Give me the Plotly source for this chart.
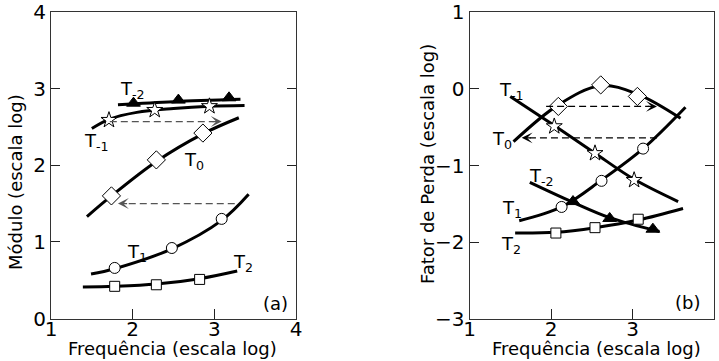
import plotly.graph_objects as go

# ---------------- data: panel (a) Módulo ----------------
a_T_m2_mx = [2.01, 2.56, 3.18]
a_T_m2_my = [2.81, 2.85, 2.88]
a_T_m2_lx = [1.82, 2.50, 3.32]
a_T_m2_ly = [2.79, 2.83, 2.86]

a_T_m1_mx = [1.71, 2.27, 2.94]
a_T_m1_my = [2.59, 2.72, 2.77]
a_T_m1_lx = [1.50, 1.71, 2.05, 2.50, 2.94, 3.37]
a_T_m1_ly = [2.48, 2.60, 2.69, 2.74, 2.77, 2.78]

a_T0_mx = [1.74, 2.29, 2.86]
a_T0_my = [1.60, 2.07, 2.42]
a_T0_lx = [1.44, 1.74, 2.29, 2.86, 3.30]
a_T0_ly = [1.33, 1.60, 2.05, 2.41, 2.62]

a_T1_mx = [1.78, 2.48, 3.09]
a_T1_my = [0.66, 0.92, 1.30]
a_T1_lx = [1.49, 1.78, 2.48, 3.09, 3.42]
a_T1_ly = [0.58, 0.65, 0.91, 1.28, 1.62]

a_T2_mx = [1.78, 2.29, 2.82]
a_T2_my = [0.42, 0.44, 0.51]
a_T2_lx = [1.39, 1.78, 2.29, 2.82, 3.28]
a_T2_ly = [0.41, 0.42, 0.45, 0.52, 0.62]

a_arrows = [  # (x_start, x_tip, y)
    (1.72, 3.09, 2.57),
    (3.25, 1.82, 1.50),
]

# ---------------- data: panel (b) Fator de Perda ----------------
b_T0_mx = [2.09, 2.61, 3.06]
b_T0_my = [-0.23, 0.05, -0.10]
b_T0_lx = [1.54, 2.09, 2.61, 3.06, 3.59]
b_T0_ly = [-0.69, -0.21, 0.04, -0.07, -0.385]

b_T_m1_mx = [2.04, 2.54, 3.02]
b_T_m1_my = [-0.49, -0.84, -1.19]
b_T_m1_lx = [1.50, 2.04, 2.54, 3.02, 3.56]
b_T_m1_ly = [-0.10, -0.48, -0.84, -1.18, -1.47]

b_T1_mx = [2.13, 2.62, 3.13]
b_T1_my = [-1.54, -1.20, -0.78]
b_T1_lx = [1.61, 2.13, 2.62, 3.13, 3.65]
b_T1_ly = [-1.72, -1.54, -1.19, -0.78, -0.24]

b_T_m2_mx = [2.27, 2.72, 3.25]
b_T_m2_my = [-1.47, -1.69, -1.83]
b_T_m2_lx = [1.74, 2.27, 2.72, 3.33]
b_T_m2_ly = [-1.22, -1.48, -1.68, -1.86]

b_T2_mx = [2.06, 2.54, 3.07]
b_T2_my = [-1.88, -1.81, -1.70]
b_T2_lx = [1.56, 2.06, 2.54, 3.07, 3.62]
b_T2_ly = [-1.88, -1.87, -1.81, -1.71, -1.56]

b_arrows = [
    (1.94, 3.30, -0.23),
    (3.30, 1.64, -0.64),
]

x_ticks = [1, 2, 3, 4]
a_y_ticks = [0, 1, 2, 3, 4]
b_y_ticks = [-3, -2, -1, 0, 1]

a_labels = [("T<sub>-2</sub>", 1.82, 3.02), ("T<sub>-1</sub>", 1.376, 2.34),
            ("T<sub>0</sub>", 2.60, 2.09), ("T<sub>1</sub>", 1.906, 0.90),
            ("T<sub>2</sub>", 3.21, 0.77)]
b_labels = [("T<sub>-1</sub>", 1.336, 0.01), ("T<sub>0</sub>", 1.254, -0.625),
            ("T<sub>-2</sub>", 1.70, -1.11), ("T<sub>1</sub>", 1.377, -1.53),
            ("T<sub>2</sub>", 1.356, -2.00)]

FONT = "DejaVu Sans"
fig = go.Figure()


def curve(x, y, xa, ya):
    fig.add_trace(go.Scatter(x=x, y=y, mode="lines", xaxis=xa, yaxis=ya,
                             line=dict(color="black", width=3, shape="spline", smoothing=1.0),
                             showlegend=False, hoverinfo="skip"))


def marks(x, y, xa, ya, symbol, size, fill):
    fig.add_trace(go.Scatter(x=x, y=y, mode="markers", xaxis=xa, yaxis=ya,
                             marker=dict(symbol=symbol, size=size, color=fill,
                                         line=dict(color="black", width=1)),
                             showlegend=False, hoverinfo="skip"))


# panel (a)
curve(a_T_m2_lx, a_T_m2_ly, "x", "y")
curve(a_T_m1_lx, a_T_m1_ly, "x", "y")
curve(a_T0_lx, a_T0_ly, "x", "y")
curve(a_T1_lx, a_T1_ly, "x", "y")
curve(a_T2_lx, a_T2_ly, "x", "y")
marks(a_T_m2_mx, a_T_m2_my, "x", "y", "triangle-up", 12, "black")
marks(a_T_m1_mx, a_T_m1_my, "x", "y", "star", 12, "white")
marks(a_T0_mx, a_T0_my, "x", "y", "diamond", 14, "white")
marks(a_T1_mx, a_T1_my, "x", "y", "circle", 11, "white")
marks(a_T2_mx, a_T2_my, "x", "y", "square", 10, "white")

# panel (b)
curve(b_T0_lx, b_T0_ly, "x2", "y2")
curve(b_T_m1_lx, b_T_m1_ly, "x2", "y2")
curve(b_T1_lx, b_T1_ly, "x2", "y2")
curve(b_T_m2_lx, b_T_m2_ly, "x2", "y2")
curve(b_T2_lx, b_T2_ly, "x2", "y2")
marks(b_T0_mx, b_T0_my, "x2", "y2", "diamond", 14, "white")
marks(b_T_m1_mx, b_T_m1_my, "x2", "y2", "star", 12, "white")
marks(b_T1_mx, b_T1_my, "x2", "y2", "circle", 11, "white")
marks(b_T_m2_mx, b_T_m2_my, "x2", "y2", "triangle-up", 12, "black")
marks(b_T2_mx, b_T2_my, "x2", "y2", "square", 10, "white")

annotations = []


def dashed_arrow(x0, x1, y, xa, ya, color, head):
    d = 0.10 if x1 > x0 else -0.10
    fig.add_trace(go.Scatter(x=[x0, x1 - d], y=[y, y], mode="lines", xaxis=xa, yaxis=ya,
                             line=dict(color=color, width=1.3, dash="7px,4px"),
                             showlegend=False, hoverinfo="skip"))
    annotations.append(dict(x=x1, y=y, ax=x1 - d * 1.3, ay=y, xref=xa, yref=ya,
                            axref=xa, ayref=ya, text="", showarrow=True,
                            arrowhead=head, arrowsize=1.4, arrowwidth=1.3,
                            arrowcolor=color))


for x0, x1, y in a_arrows:
    dashed_arrow(x0, x1, y, "x", "y", "#555555", 3)
for x0, x1, y in b_arrows:
    dashed_arrow(x0, x1, y, "x2", "y2", "black", 3)

for t, x, y in a_labels:
    annotations.append(dict(x=x, y=y, xref="x", yref="y", text=t, showarrow=False,
                            xanchor="left", yanchor="middle", yshift=-3,
                            font=dict(family=FONT, size=18, color="black")))
for t, x, y in b_labels:
    annotations.append(dict(x=x, y=y, xref="x2", yref="y2", text=t, showarrow=False,
                            xanchor="left", yanchor="middle", yshift=-3,
                            font=dict(family=FONT, size=18, color="black")))

annotations.append(dict(x=3.75, y=0.19, xref="x", yref="y", text="(a)", showarrow=False,
                        xanchor="center", yanchor="middle",
                        font=dict(family=FONT, size=18, color="black")))
annotations.append(dict(x=3.68, y=-2.79, xref="x2", yref="y2", text="(b)", showarrow=False,
                        xanchor="center", yanchor="middle",
                        font=dict(family=FONT, size=18, color="black")))

# axis titles
title_font = dict(family=FONT, size=18, color="black")
annotations.append(dict(x=16 / 719, y=1 - 182 / 361, xref="paper", yref="paper",
                        text="Módulo (escala log)", textangle=-90, showarrow=False,
                        xanchor="center", yanchor="middle", font=title_font))
annotations.append(dict(x=427 / 719, y=1 - 164 / 361, xref="paper", yref="paper",
                        text="Fator de Perda (escala log)", textangle=-90, showarrow=False,
                        xanchor="center", yanchor="middle", font=title_font))
annotations.append(dict(x=172 / 719, y=0, xref="paper", yref="paper",
                        text="Frequência (escala log)", showarrow=False,
                        xanchor="center", yanchor="bottom", font=title_font))
annotations.append(dict(x=596 / 719, y=0, xref="paper", yref="paper",
                        text="Frequência (escala log)", showarrow=False,
                        xanchor="center", yanchor="bottom", font=title_font))

xcommon = dict(range=[1, 4], tickvals=x_ticks, ticks="inside", ticklen=10, tickwidth=1,
               tickcolor="#222", showline=True, linecolor="#333", linewidth=1, mirror=True,
               showgrid=False, zeroline=False, automargin=False, ticklabelstandoff=-8,
               tickfont=dict(family=FONT, size=20, color="black"))
ycommon = dict(ticks="inside", ticklen=9, tickwidth=1, tickcolor="#222", showline=True,
               linecolor="#333", linewidth=1, mirror="ticks", showgrid=False, zeroline=False,
               automargin=False, tickfont=dict(family=FONT, size=20, color="black"))

fig.update_layout(
    width=719, height=361,
    margin=dict(l=0, r=0, t=0, b=0, autoexpand=False),
    paper_bgcolor="white", plot_bgcolor="white",
    xaxis=dict(domain=[51 / 719, 296 / 719], anchor="y", **xcommon),
    yaxis=dict(domain=[1 - 318.5 / 361, 1 - 12 / 361], anchor="x", range=[0, 4],
               tickvals=a_y_ticks, **ycommon),
    xaxis2=dict(domain=[469.5 / 719, 714 / 719], anchor="y2", **xcommon),
    yaxis2=dict(domain=[1 - 319 / 361, 1 - 12 / 361], anchor="x2", range=[-3, 1],
                tickvals=b_y_ticks, **ycommon),
    annotations=annotations,
)

fig.write_html("out.html", config={"displayModeBar": False},
               post_script="document.body.style.margin='0';document.body.style.padding='0';")
